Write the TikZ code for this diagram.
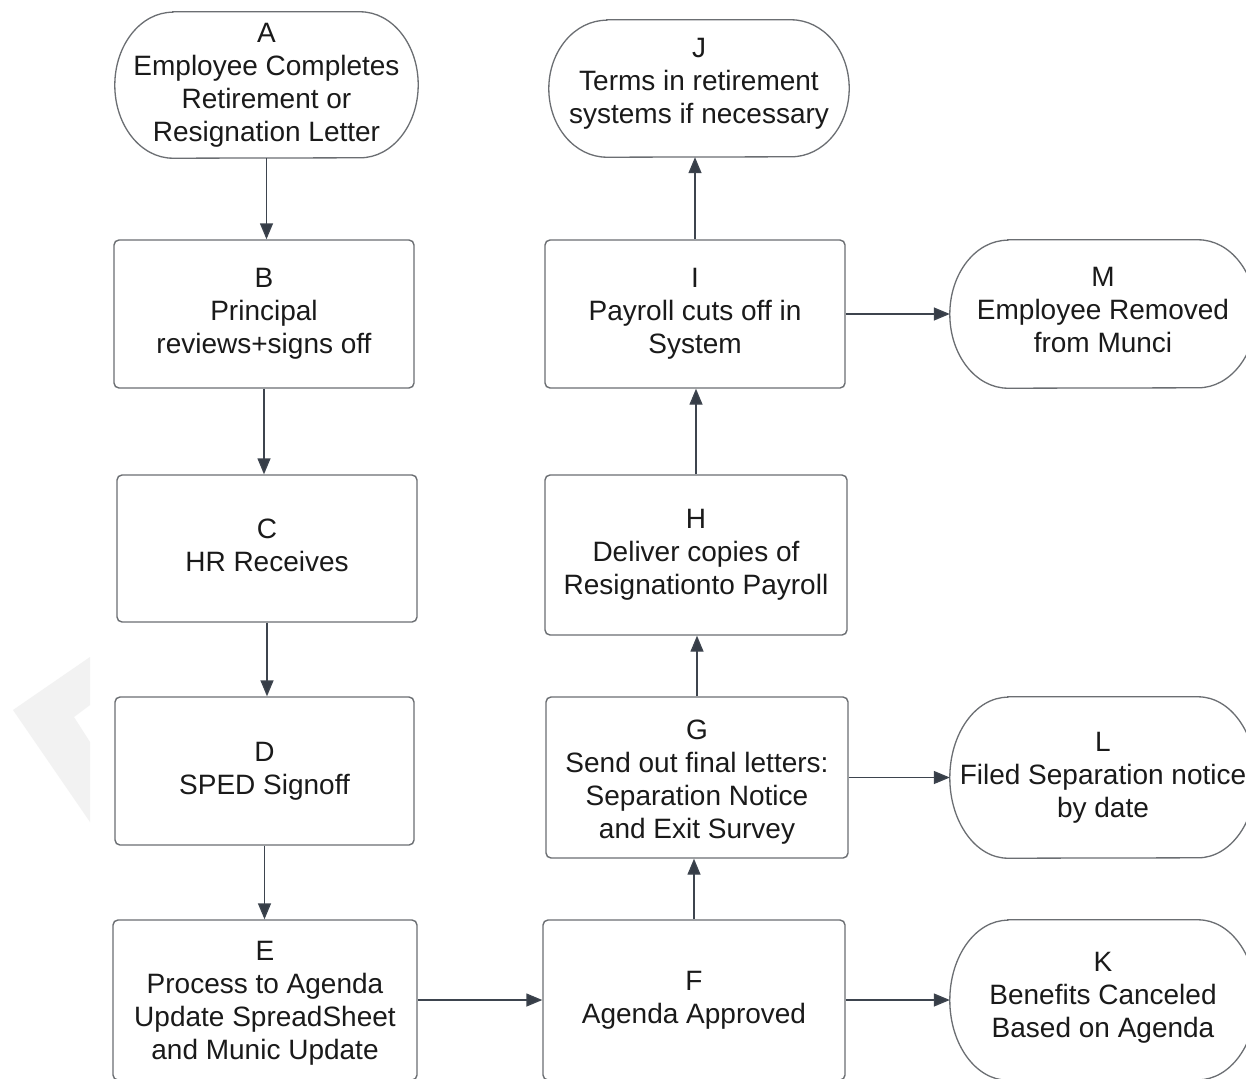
\documentclass[tikz,border=0pt]{standalone}
\usepackage{fontspec}
\setmainfont{Liberation Sans}
\usetikzlibrary{arrows.meta}

\definecolor{boxline}{HTML}{6B6E72}
\definecolor{connline}{HTML}{3D444E}
\definecolor{tipfill}{HTML}{363D47}
\definecolor{inktext}{HTML}{1A1A1A}
\definecolor{markgray}{HTML}{F2F2F2}

% outline of a terminal (stadium with elliptical ends) around a named node
\newcommand{\stadiumoutline}[2]{%
  \draw[termline] ([xshift=58pt]#1.north west) -- ([xshift=-58pt]#1.north east)
    arc[start angle=90, end angle=-90, x radius=58pt, y radius=#2pt]
    -- ([xshift=58pt]#1.south west)
    arc[start angle=270, end angle=90, x radius=58pt, y radius=#2pt] -- cycle;}
% invisible struts that set the depth of a last line / height of a first line,
% used to nudge a text block inside its box
\newcommand{\lowstrut}[1]{\rule[-#1]{0pt}{0pt}}
\newcommand{\highstrut}[1]{\rule{0pt}{#1}}

\tikzset{
  txt/.style={font=\fontsize{28}{33}\selectfont, text=inktext, align=center,
    inner sep=0pt},
  stepbox/.style={txt, draw=boxline, line width=1.4pt, rounded corners=5pt,
    fill=white},
  term/.style={txt, draw=none},
  termline/.style={draw=boxline, line width=1.3pt},
  flow/.style={draw=connline, line width=1.4pt,
    -{Triangle[length=16pt, width=13pt, fill=tipfill]}},
}

\begin{document}
\begin{tikzpicture}[x=1pt, y=-1pt]
\useasboundingbox[fill=white] (0,0) rectangle (1246,1078);

% faint logo mark on the left margin
\fill[markgray] (90,657) -- (90,705) -- (74,717) -- (90,742) -- (90,822)
  -- (13,710) -- cycle;

% left column
\node[term, minimum width=303pt, minimum height=146pt] (A) at (266.5,85)
  {A\\Employee Completes\\Retirement or\\Resignation Letter};
\node[stepbox, minimum width=300pt, minimum height=148pt] (B) at (264,314)
  {B\\Principal\\reviews+signs off};
\node[stepbox, minimum width=300pt, minimum height=147pt] (C) at (267,548.5)
  {C\\HR Receives\lowstrut{6pt}};
\node[stepbox, minimum width=299pt, minimum height=148pt] (D) at (264.5,771)
  {D\\SPED Signoff};
\node[stepbox, minimum width=304pt, minimum height=160pt] (E) at (265,1000)
  {\highstrut{26pt}E\\Process to Agenda\\Update SpreadSheet\\and Munic Update};

% middle column
\node[stepbox, minimum width=302pt, minimum height=160pt] (F) at (694,1000)
  {F\\Agenda Approved};
\node[stepbox, minimum width=302pt, minimum height=161pt] (G) at (697,777.5)
  {\highstrut{28pt}G\\Send out final letters:\\Separation Notice\\and Exit Survey};
\node[stepbox, minimum width=302pt, minimum height=160pt] (H) at (696,555)
  {H\\Deliver copies of\\Resignationto Payroll};
\node[stepbox, minimum width=300pt, minimum height=148pt] (I) at (695,314)
  {I\\Payroll cuts off in\\System};
\node[term, minimum width=300pt, minimum height=137pt] (J) at (699,88.5)
  {J\\Terms in retirement\\systems if necessary\lowstrut{16pt}};

% right column
\node[term, minimum width=306pt, minimum height=148pt] (M) at (1103,314)
  {M\\Employee Removed\\from Munci\lowstrut{8pt}};
\node[term, minimum width=306pt, minimum height=161pt] (L) at (1103,777.5)
  {L\\Filed Separation notice\\by date};
\node[term, minimum width=306pt, minimum height=160pt] (K) at (1103,1000)
  {K\\Benefits Canceled\\Based on Agenda\lowstrut{10pt}};

% terminal outlines
\stadiumoutline{A}{73}
\stadiumoutline{J}{68.5}
\stadiumoutline{M}{74}
\stadiumoutline{L}{80.5}
\stadiumoutline{K}{80}

% connectors
\draw[flow] (A.south) -- (A.south |- B.north);
\draw[flow] (B.south) -- (B.south |- C.north);
\draw[flow] (C.south) -- (C.south |- D.north);
\draw[flow] (D.south) -- (D.south |- E.north);
\draw[flow] (E.east) -- (F.west);
\draw[flow] (F.north) -- (F.north |- G.south);
\draw[flow] (G.north) -- (G.north |- H.south);
\draw[flow] (H.north) -- (H.north |- I.south);
\draw[flow] (I.north) -- (I.north |- J.south);
\draw[flow] (I.east) -- (I.east -| M.west);
\draw[flow] (G.east) -- (G.east -| L.west);
\draw[flow] (F.east) -- (F.east -| K.west);
\end{tikzpicture}
\end{document}
